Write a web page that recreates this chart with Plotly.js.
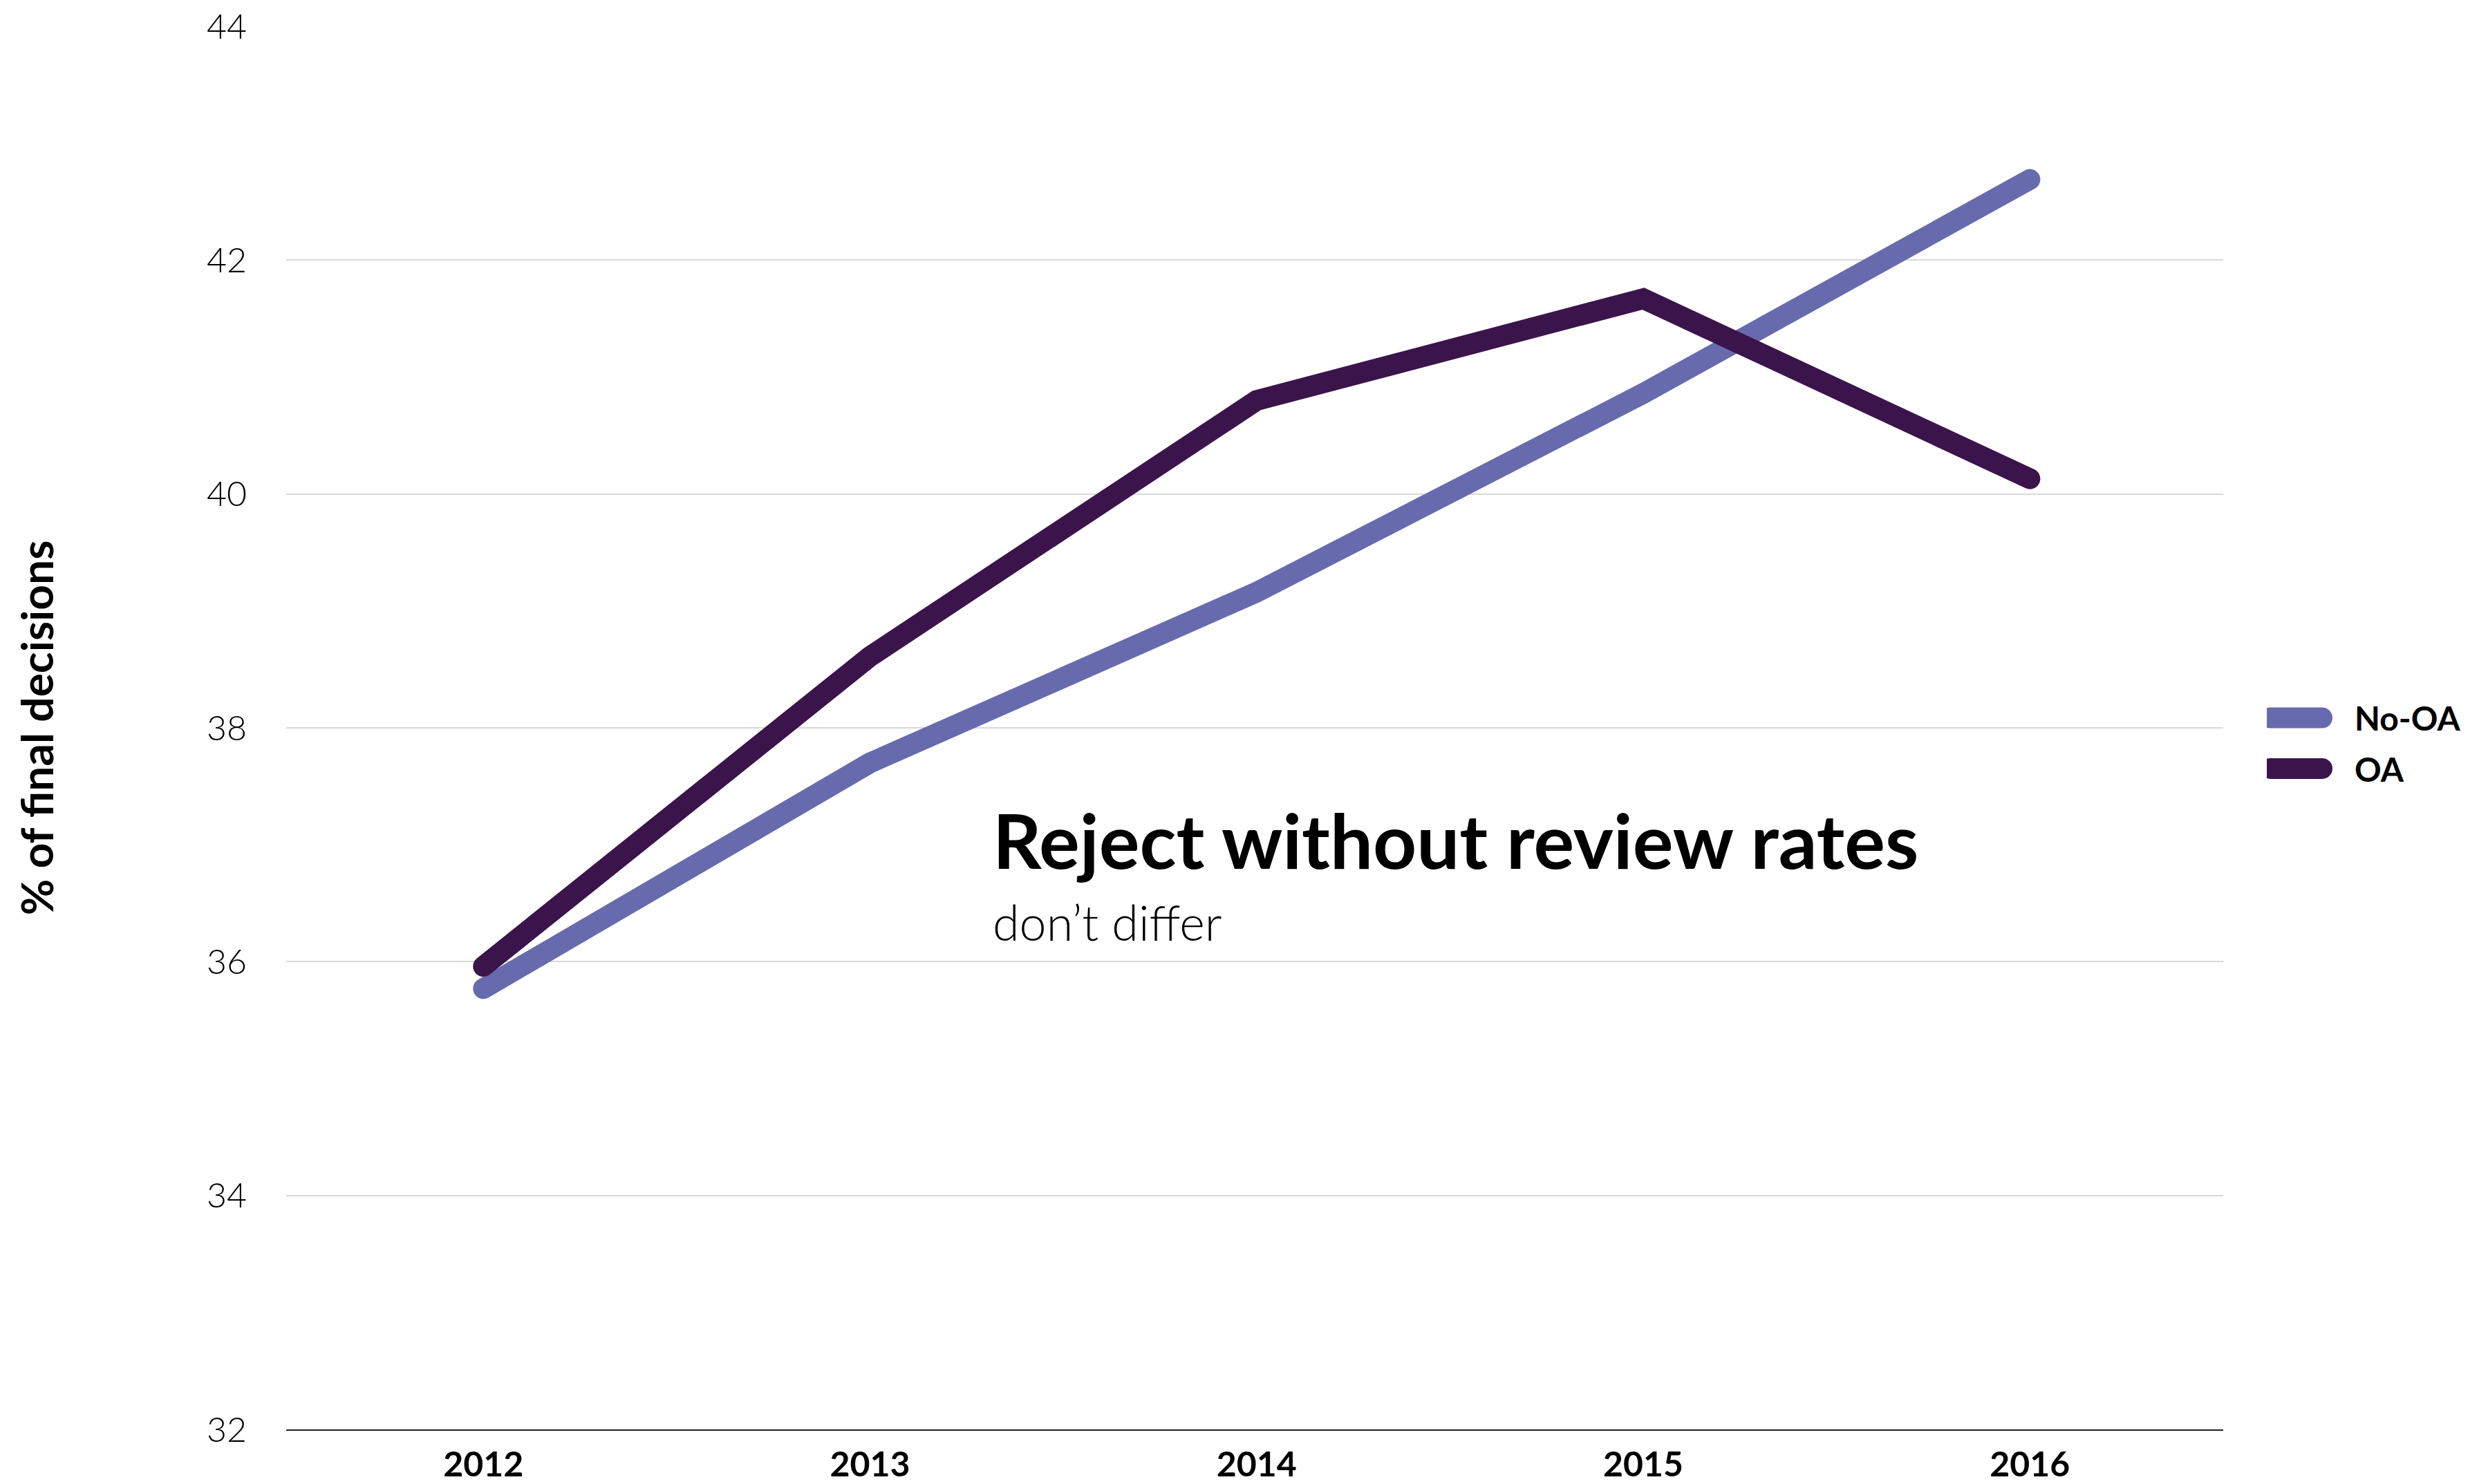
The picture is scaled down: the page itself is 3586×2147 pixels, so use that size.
<!DOCTYPE html>
<html>
<head>
<meta charset="utf-8">
<script src="https://cdn.plot.ly/plotly-3.0.1.min.js"></script>
<style>
html,body{margin:0;padding:0;background:#fff;}
#chart{width:3586px;height:2147px;}
.scatterlayer .js-line{stroke-linecap:round;}
.legendlines path{stroke-linecap:round !important;stroke-width:30px !important;stroke-dasharray:75px 2000px !important;}
</style>
</head>
<body>
<div id="chart"></div>
<script>
var years = ['2012', '2013', '2014', '2015', '2016'];
var noOA = [35.77, 37.70, 39.16, 40.86, 42.69];
var oa = [35.96, 38.61, 40.80, 41.67, 40.13];
var yTicks = [32, 34, 36, 38, 40, 42, 44];
var seriesNames = ['No-OA', 'OA'];
var titleText = 'Reject without review rates';
var subtitleText = 'don’t differ';
var yTitle = '% of final decisions';

var FONT = 'Lato, "Source Sans Pro", "Noto Sans", sans-serif';

var traces = [
  {x: years, y: noOA, name: seriesNames[0], legendgroup: 'g1', type: 'scatter', mode: 'lines',
   line: {color: '#676bad', width: 30}},
  {x: years, y: oa, name: seriesNames[1], legendgroup: 'g2', type: 'scatter', mode: 'lines',
   line: {color: '#3b144b', width: 30}}
];

var layout = {
  width: 3586, height: 2147,
  paper_bgcolor: '#fff', plot_bgcolor: '#fff',
  margin: {l: 414, r: 370, t: 38, b: 79, pad: 0},
  font: {family: FONT, color: '#000'},
  showlegend: true,
  legend: {x: 1.0225, xanchor: 'left', y: 0.489, yanchor: 'middle',
           font: {size: 48, family: FONT, weight: 700, color: '#000'},
           itemwidth: 117, tracegroupgap: 8, bgcolor: 'rgba(0,0,0,0)'},
  xaxis: {
    type: 'category', range: [-0.51, 4.5],
    showgrid: false, zeroline: false,
    showline: true, linecolor: '#222', linewidth: 2,
    ticks: '', ticklabelstandoff: 6,
    tickfont: {size: 50, family: FONT, weight: 700, color: '#000'}
  },
  yaxis: {
    range: [32, 44], tickvals: yTicks,
    showgrid: true, gridcolor: '#d9d9d9', gridwidth: 2,
    zeroline: false, showline: false, ticks: '',
    ticklabelstandoff: 56,
    tickfont: {size: 50, family: FONT, weight: 300, color: '#000'},
    title: {text: yTitle, standoff: 200,
            font: {size: 64, family: FONT, weight: 700, color: '#000'}}
  },
  annotations: [
    {xref: 'x', yref: 'y', x: 1.313, y: 37.05, xanchor: 'left', yanchor: 'middle',
     text: titleText, showarrow: false,
     font: {size: 110, family: FONT, weight: 700, color: '#000'}},
    {xref: 'x', yref: 'y', x: 1.313, y: 36.34, xanchor: 'left', yanchor: 'middle',
     text: subtitleText, showarrow: false,
     font: {size: 70, family: FONT, weight: 300, color: '#000'}}
  ]
};

Plotly.newPlot('chart', traces, layout, {staticPlot: true, displayModeBar: false});
</script>
</body>
</html>
